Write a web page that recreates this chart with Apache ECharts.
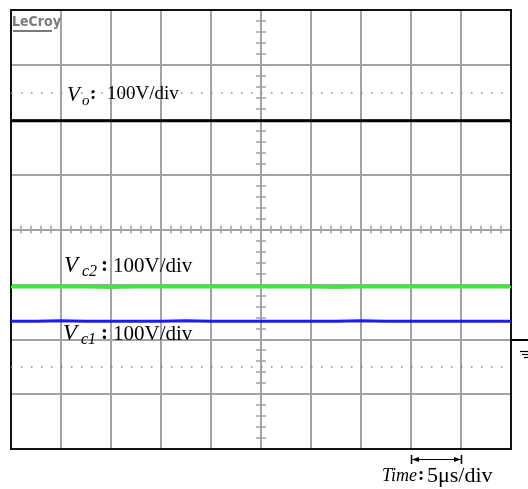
<!DOCTYPE html>
<html>
<head>
<meta charset="utf-8">
<script src="https://cdn.jsdelivr.net/npm/echarts@6/dist/echarts.min.js"></script>
<style>html,body{margin:0;padding:0;background:#fff}#c{width:528px;height:489px}</style>
</head>
<body>
<div id="c"></div>
<script>
// time in microseconds (centre of screen = 0), values in divisions
const timeUs = [-25,-22.5,-20,-17.5,-15,-12.5,-10,-7.5,-5,-2.5,0,2.5,5,7.5,10,12.5,15,17.5,20,22.5,25];
const vo  = [1.98,1.98,1.98,1.98,1.98,1.98,1.98,1.98,1.98,1.98,1.98,1.98,1.98,1.98,1.98,1.98,1.98,1.98,1.98,1.98,1.98];
const vc2 = [-1.05,-1.05,-1.05,-1.05,-1.055,-1.05,-1.05,-1.05,-1.05,-1.05,-1.05,-1.05,-1.05,-1.055,-1.05,-1.05,-1.05,-1.05,-1.05,-1.05,-1.05];
const vc1 = [-1.67,-1.67,-1.665,-1.67,-1.67,-1.67,-1.67,-1.665,-1.67,-1.67,-1.67,-1.67,-1.67,-1.67,-1.665,-1.67,-1.67,-1.67,-1.67,-1.67,-1.67];
const dotRows = [2.5, -2.5];

const zip = (a) => timeUs.map((t, i) => [t, a[i]]);
const gridGray = '#a3a3a3';
const serif = '"Liberation Serif","Times New Roman",serif';

const chart = echarts.init(document.getElementById('c'), null, {renderer: 'canvas'});

function xAx(pos, showSplit) {
  return {
    type: 'value', min: -25, max: 25, interval: 5, position: pos,
    axisLine: {show: true, onZero: true, lineStyle: {color: gridGray, width: 2}},
    axisTick: {show: true, length: 4, lineStyle: {color: gridGray, width: 1.5}},
    minorTick: {show: true, splitNumber: 5, length: 4, lineStyle: {color: gridGray, width: 1.5}},
    axisLabel: {show: false},
    splitLine: {show: showSplit, showMinLine: false, showMaxLine: false, lineStyle: {color: gridGray, width: 2}},
    minorSplitLine: {show: false}
  };
}
function yAx(pos, showSplit) {
  return {
    type: 'value', min: -4, max: 4, interval: 1, position: pos,
    axisLine: {show: true, onZero: true, lineStyle: {color: gridGray, width: 2}},
    axisTick: {show: true, length: 5, lineStyle: {color: gridGray, width: 1.5}},
    minorTick: {show: true, splitNumber: 5, length: 5, lineStyle: {color: gridGray, width: 1.5}},
    axisLabel: {show: false},
    splitLine: {show: showSplit, showMinLine: false, showMaxLine: false, lineStyle: {color: gridGray, width: 2}},
    minorSplitLine: {show: false}
  };
}

function txt(x, y, text, font, fill) {
  return {
    type: 'text', x: x, y: y, z: 100,
    style: {text: text, font: font, fill: fill || '#000', verticalAlign: 'middle', align: 'left'}
  };
}

chart.setOption({
  animation: false,
  backgroundColor: '#fff',
  grid: {left: 11, top: 10, width: 500, height: 439, show: true, borderColor: '#111', borderWidth: 2, backgroundColor: 'transparent', z: 5},
  xAxis: [xAx('bottom', true), xAx('top', false)],
  yAxis: [yAx('left', true), yAx('right', false)],
  series: [
    {type: 'line', name: 'Vo', data: zip(vo), showSymbol: false, lineStyle: {color: '#000', width: 3}, z: 10,
     markLine: {silent: true, symbol: 'none', label: {show: false},
       lineStyle: {color: '#8a8a8a', width: 1.5, type: [1.5, 8.5]},
       data: dotRows.map(v => ({yAxis: v}))}},
    {type: 'line', name: 'Vc2', data: zip(vc2), showSymbol: false, lineStyle: {color: '#2bf52b', width: 3}, z: 10},
    {type: 'line', name: 'Vc1', data: zip(vc1), showSymbol: false, lineStyle: {color: '#1a1aff', width: 3}, z: 10}
  ],
  graphic: [
    // LeCroy logo
    txt(12, 22, 'LeCroy', 'bold 14px "DejaVu Sans Condensed","Liberation Sans Narrow",sans-serif', '#7a7a7a'),
    {type: 'line', z: 100, shape: {x1: 13, y1: 31, x2: 52, y2: 31}, style: {stroke: '#7a7a7a', lineWidth: 2}},
    // Vo label
    txt(67, 95, 'V', 'italic 21px ' + serif),
    txt(82, 101, 'o', 'italic 15px ' + serif),
    txt(90, 94, ':', 'bold 19px ' + serif),
    txt(107, 94, '100V/div', '19px ' + serif),
    // Vc2 label
    txt(64, 266, 'V', 'italic 23px ' + serif),
    txt(82, 272, 'c2', 'italic 16px ' + serif),
    txt(101, 266, ':', 'bold 21px ' + serif),
    txt(113, 266, '100V/div', '21px ' + serif),
    // Vc1 label
    txt(63, 334, 'V', 'italic 23px ' + serif),
    txt(81, 340, 'c1', 'italic 16px ' + serif),
    txt(101, 334, ':', 'bold 21px ' + serif),
    txt(113, 334, '100V/div', '21px ' + serif),
    // time scale
    {type: 'line', z: 100, shape: {x1: 412, y1: 459.5, x2: 461, y2: 459.5}, style: {stroke: '#000', lineWidth: 1.2}},
    {type: 'line', z: 100, shape: {x1: 411.5, y1: 455, x2: 411.5, y2: 464}, style: {stroke: '#000', lineWidth: 1.5}},
    {type: 'line', z: 100, shape: {x1: 461.5, y1: 455, x2: 461.5, y2: 464}, style: {stroke: '#000', lineWidth: 1.5}},
    {type: 'polygon', z: 100, shape: {points: [[412, 459.5], [419, 457], [419, 462]]}, style: {fill: '#000'}},
    {type: 'polygon', z: 100, shape: {points: [[461, 459.5], [454, 457], [454, 462]]}, style: {fill: '#000'}},
    txt(382, 476, 'Time', 'italic 18px ' + serif),
    txt(418, 475, ':', 'bold 19px ' + serif),
    txt(427, 476, '5\u03bcs/div', '22px ' + serif),
    // ground marker on the right
    {type: 'line', z: 100, shape: {x1: 512, y1: 340, x2: 528, y2: 340}, style: {stroke: '#000', lineWidth: 2}},
    {type: 'line', z: 100, shape: {x1: 520, y1: 351.5, x2: 528, y2: 351.5}, style: {stroke: '#000', lineWidth: 1.2}},
    {type: 'line', z: 100, shape: {x1: 522, y1: 354.5, x2: 528, y2: 354.5}, style: {stroke: '#000', lineWidth: 1.2}},
    {type: 'line', z: 100, shape: {x1: 524, y1: 357.5, x2: 528, y2: 357.5}, style: {stroke: '#000', lineWidth: 1.2}}
  ]
});
</script>
</body>
</html>
